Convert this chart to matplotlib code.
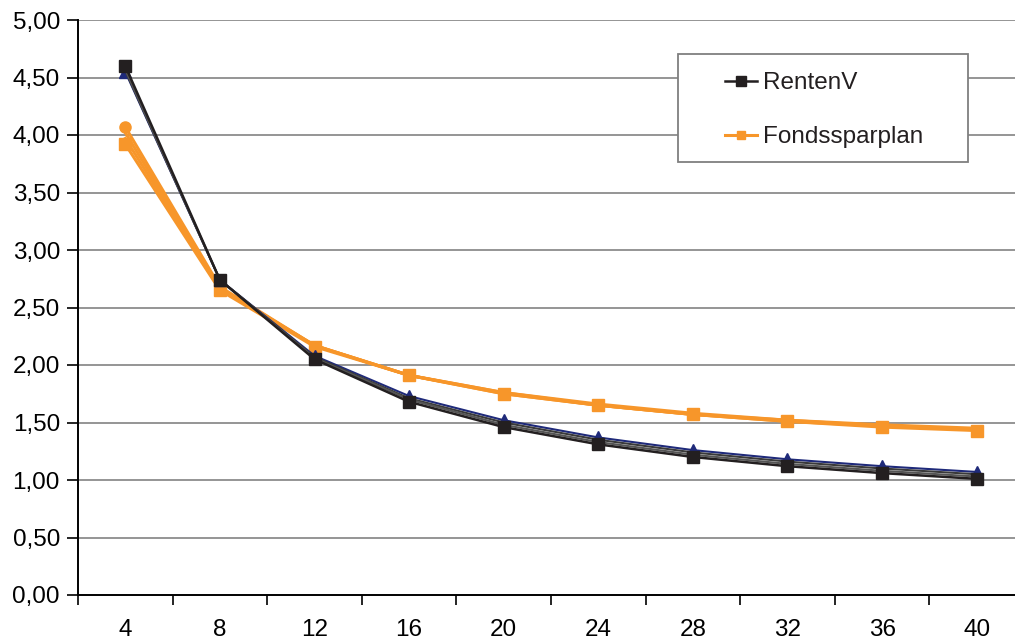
import numpy as np
import matplotlib
matplotlib.use("Agg")
import matplotlib.pyplot as plt
from matplotlib.patches import Rectangle

plt.rcParams["font.family"] = ["Liberation Sans", "DejaVu Sans"]

# Laufzeit in Jahren (Kategorien)
jahre = ["4", "8", "12", "16", "20", "24", "28", "32", "36", "40"]

# RentenV-Varianten (dunkle Linien)
renten_navy = [4.55, 2.74, 2.08, 1.73, 1.52, 1.37, 1.26, 1.18, 1.12, 1.07]
renten_grau1 = [4.56, 2.74, 2.07, 1.71, 1.50, 1.35, 1.24, 1.16, 1.10, 1.05]
renten_grau2 = [4.57, 2.74, 2.06, 1.70, 1.48, 1.33, 1.22, 1.14, 1.08, 1.03]
renten_schwarz = [4.60, 2.74, 2.05, 1.68, 1.46, 1.31, 1.20, 1.12, 1.06, 1.01]

# Fondssparplan-Varianten (orange Linien)
fonds_1 = [4.07, 2.68, 2.17, 1.91, 1.76, 1.66, 1.58, 1.52, 1.48, 1.45]
fonds_2 = [4.02, 2.67, 2.17, 1.91, 1.76, 1.65, 1.57, 1.52, 1.47, 1.44]
fonds_3 = [3.97, 2.66, 2.17, 1.91, 1.75, 1.65, 1.57, 1.51, 1.47, 1.44]
fonds_4 = [3.92, 2.65, 2.16, 1.91, 1.75, 1.65, 1.57, 1.51, 1.46, 1.43]

yticks = np.arange(0, 5.01, 0.5)
ytick_labels = [f"{v:.2f}".replace(".", ",") for v in yticks]

ORANGE = "#f7962a"
W, H = 1015, 641

fig = plt.figure(figsize=(W / 100, H / 100), dpi=100)
ax = fig.add_axes([78 / W, 46 / H, 946 / W, 575 / H])

x = np.arange(len(jahre))

for yv in yticks[1:]:
    ax.axhline(yv, color="#8c8c8c", lw=1.3, zorder=0)

# orange Linien
for serie in [fonds_1, fonds_2, fonds_3]:
    ax.plot(x, serie, color=ORANGE, lw=2.2, zorder=2)
ax.plot(x[:1], fonds_1[:1], "o", color=ORANGE, ms=8, zorder=3)
ax.plot(x, fonds_4, color=ORANGE, lw=2.2, marker="s", ms=8,
        label="Fondssparplan", zorder=3)

# dunkle Linien
ax.plot(x, renten_navy, color="#1f2a7a", lw=1.5, marker="^", ms=8, zorder=4)
ax.plot(x, renten_grau1, color="#3a3a3a", lw=1.5, zorder=4)
ax.plot(x, renten_grau2, color="#555555", lw=1.5, zorder=4)
ax.plot(x, renten_schwarz, color="#231f20", lw=1.8, marker="s", ms=9,
        label="RentenV", zorder=5)

ax.set_xlim(-0.5, len(jahre) - 0.5)
ax.set_ylim(0, 5)
ax.set_yticks(yticks)
ax.set_yticklabels(ytick_labels)
ax.set_xticks(x)
ax.set_xticklabels(jahre)
ax.set_xticks(np.arange(-0.5, len(jahre), 1), minor=True)
ax.tick_params(axis="x", which="major", length=0, pad=17, labelsize=17.5)
ax.tick_params(axis="x", which="minor", length=7, width=1.2, direction="out")
ax.tick_params(axis="y", length=8, width=1.2, direction="out",
               labelsize=17.5, pad=5)

for s in ["top", "right"]:
    ax.spines[s].set_visible(False)
ax.spines["left"].set_linewidth(1.4)
ax.spines["bottom"].set_linewidth(1.4)

# Legendenrahmen
rahmen = Rectangle((678 / W, 1 - 162 / H), 290 / W, 108 / H,
                   transform=fig.transFigure, facecolor="white",
                   edgecolor="#7f7f7f", lw=1.3, zorder=8, clip_on=False)
ax.add_patch(rahmen)

handles, labels = ax.get_legend_handles_labels()
order = [1, 0]
leg = ax.legend([handles[i] for i in order], [labels[i] for i in order],
                loc="upper left", bbox_to_anchor=(725 / W, 1 - 72 / H),
                bbox_transform=fig.transFigure,
                fontsize=17.5, frameon=False, handlelength=1.3,
                markerscale=0.8, borderpad=0, labelspacing=1.32,
                borderaxespad=0, handletextpad=0.25)
leg.set_zorder(10)
for t in leg.get_texts():
    t.set_color("#231f20")

fig.savefig("out.png", dpi=100)
